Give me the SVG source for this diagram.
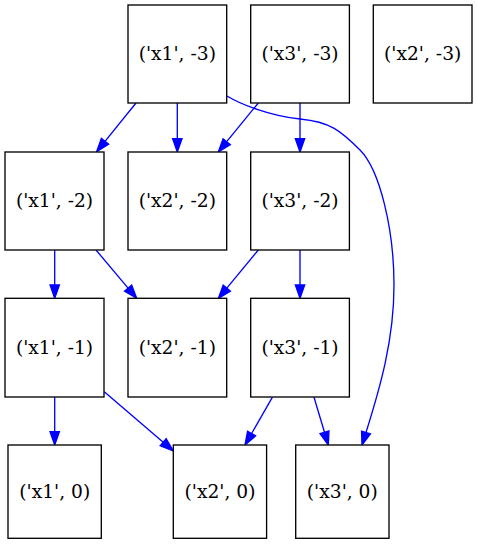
<svg xmlns="http://www.w3.org/2000/svg" width="477" height="544" viewBox="0 0 477 544">
<style>
.node rect{fill:#fff;stroke:#000;stroke-width:1.33}
.node text{font-family:"DejaVu Serif",serif;font-size:18.67px;text-anchor:middle;fill:#000}
.edges path,.edges line{stroke:#0000ff;stroke-width:1.33;fill:none;marker-end:url(#arr)}
</style>
<defs>
<marker id="arr" markerUnits="userSpaceOnUse" viewBox="0 -6 15 12" markerWidth="15" markerHeight="12" refX="0" refY="0" orient="auto" overflow="visible">
<path d="M0,-4.67 L13.3,0 L0,4.67 z" fill="#0000ff" stroke="#0000ff" stroke-width="1.33"/>
</marker>
</defs>
<rect width="477" height="544" fill="#fff"/>
<g class="edges">
<line x1="136" y1="103" x2="105" y2="141.3"/>
<line x1="177.3" y1="103" x2="177.3" y2="138.7"/>
<line x1="258.3" y1="103" x2="226.7" y2="141.7"/>
<line x1="300" y1="103" x2="300" y2="138.7"/>
<path d="M227,96 C240,104 270,116 300,119 S340,130 360,150 S394,230 394,285 S380,388 366,432.5"/>
<line x1="54.7" y1="250" x2="54.7" y2="285"/>
<line x1="96" y1="250" x2="128.1" y2="288.1"/>
<line x1="258.3" y1="250" x2="226.8" y2="288.1"/>
<line x1="300" y1="250" x2="300" y2="285"/>
<line x1="54.7" y1="397" x2="54.7" y2="431.7"/>
<line x1="104.3" y1="391.7" x2="163.2" y2="442.3"/>
<line x1="272.3" y1="397.3" x2="251.6" y2="433.5"/>
<line x1="314" y1="397.3" x2="324.5" y2="432.3"/>
</g>
<g id="n_x1_m3" class="node"><rect x="128" y="5" width="98.7" height="98"/><text x="177.3" y="60">('x1', -3)</text></g>
<g id="n_x3_m3" class="node"><rect x="250.7" y="5" width="98.7" height="98"/><text x="300" y="60">('x3', -3)</text></g>
<g id="n_x2_m3" class="node"><rect x="373.3" y="5" width="98.7" height="98"/><text x="422.7" y="60">('x2', -3)</text></g>
<g id="n_x1_m2" class="node"><rect x="5" y="152" width="99" height="98"/><text x="54.5" y="207">('x1', -2)</text></g>
<g id="n_x2_m2" class="node"><rect x="128" y="152" width="98.7" height="98"/><text x="177.3" y="207">('x2', -2)</text></g>
<g id="n_x3_m2" class="node"><rect x="250.7" y="152" width="98.7" height="98"/><text x="300" y="207">('x3', -2)</text></g>
<g id="n_x1_m1" class="node"><rect x="5" y="298.3" width="99" height="98.7"/><text x="54.5" y="353.7">('x1', -1)</text></g>
<g id="n_x2_m1" class="node"><rect x="128" y="298.3" width="98.7" height="98.7"/><text x="177.3" y="353.7">('x2', -1)</text></g>
<g id="n_x3_m1" class="node"><rect x="250.7" y="298.3" width="98.7" height="98.7"/><text x="300" y="353.7">('x3', -1)</text></g>
<g id="n_x1_0" class="node"><rect x="8" y="445" width="93.3" height="93.3"/><text x="54.7" y="497.7">('x1', 0)</text></g>
<g id="n_x2_0" class="node"><rect x="173.3" y="445" width="93.3" height="93.3"/><text x="220" y="497.7">('x2', 0)</text></g>
<g id="n_x3_0" class="node"><rect x="295.7" y="445" width="93.3" height="93.3"/><text x="342.3" y="497.7">('x3', 0)</text></g>
</svg>
